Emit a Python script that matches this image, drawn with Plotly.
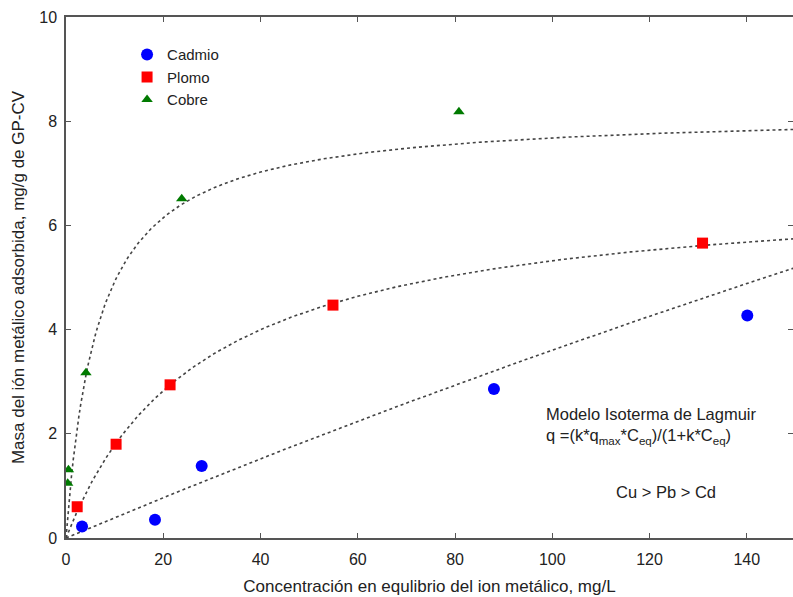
import numpy as np
import plotly.graph_objects as go

# Experimental data (C_eq in mg/L, q in mg/g)
cd_c = [3.3, 18.3, 27.9, 88.0, 140.1]
cd_q = [0.22, 0.35, 1.38, 2.86, 4.27]
pb_c = [2.3, 10.3, 21.4, 54.9, 130.9]
pb_q = [0.60, 1.80, 2.94, 4.47, 5.66]
cu_c = [0.35, 0.5, 4.1, 23.8, 80.8]
cu_q = [1.05, 1.31, 3.17, 6.51, 8.18]

# Langmuir fitted parameters (qmax, k)
cd_qmax, cd_k = 42.6, 0.000925
pb_qmax, pb_k = 6.83, 0.0353
cu_qmax, cu_k = 8.19, 0.1506

x_ticks = [0, 20, 40, 60, 80, 100, 120, 140]
y_ticks = [0, 2, 4, 6, 8, 10]

c_model = np.linspace(0, 150, 400)


def langmuir(c, qmax, k):
    return qmax * k * c / (1 + k * c)


fig = go.Figure()
dash_line = dict(color="#444444", width=1.6, dash="3px,3px")
for qmax, k in [(cd_qmax, cd_k), (pb_qmax, pb_k), (cu_qmax, cu_k)]:
    fig.add_trace(go.Scatter(x=c_model, y=langmuir(c_model, qmax, k), mode="lines",
                             line=dash_line, showlegend=False, hoverinfo="skip"))

fig.add_trace(go.Scatter(x=cd_c, y=cd_q, mode="markers", name="Cadmio",
                         marker=dict(symbol="circle", size=12, color="#0000ff")))
fig.add_trace(go.Scatter(x=pb_c, y=pb_q, mode="markers", name="Plomo",
                         marker=dict(symbol="square", size=11, color="#ff0000")))
fig.add_trace(go.Scatter(x=cu_c, y=cu_q, mode="markers", name="Cobre",
                         marker=dict(symbol="triangle-up", size=10, color="#007a00")))

font = "Liberation Sans, Arial, sans-serif"
fig.update_layout(
    width=793, height=597,
    margin=dict(l=66, r=0, t=17, b=59),
    paper_bgcolor="white", plot_bgcolor="white",
    font=dict(family=font, size=16, color="#222222"),
    legend=dict(x=0.084, y=0.959, xanchor="left", yanchor="top",
                bgcolor="rgba(0,0,0,0)", font=dict(family=font, size=15, color="#222222"),
                tracegroupgap=0, itemwidth=30),
    xaxis=dict(range=[0, 149.5], tickvals=x_ticks, showgrid=False, zeroline=False,
               showline=True, linecolor="#555555", linewidth=1.5, mirror="ticks",
               ticks="inside", ticklen=5, tickcolor="#555555", automargin=False,
               ticklabelstandoff=6,
               tickfont=dict(family=font, size=16, color="#222222"),
               title=dict(text="Concentración en equlibrio del ion metálico, mg/L",
                          font=dict(family=font, size=17, color="#222222"), standoff=13)),
    yaxis=dict(range=[0, 10], tickvals=y_ticks, showgrid=False, zeroline=False,
               showline=True, linecolor="#555555", linewidth=1.5, mirror="ticks",
               ticks="inside", ticklen=5, tickcolor="#555555", automargin=False,
               ticklabelstandoff=4,
               tickfont=dict(family=font, size=16, color="#222222"),
               title=dict(text="Masa del ión metálico adsorbida, mg/g de GP-CV",
                          font=dict(family=font, size=17, color="#222222"), standoff=10)),
)

fig.add_annotation(x=98.3, y=2.15, xref="x", yref="y", xanchor="left", yanchor="middle",
                   text="Modelo Isoterma de Lagmuir<br>q =(k*q<sub>max</sub>*C<sub>eq</sub>)/(1+k*C<sub>eq</sub>)",
                   showarrow=False, align="left",
                   font=dict(family=font, size=16.5, color="#222222"))
fig.add_annotation(x=112.6, y=0.88, xref="x", yref="y", xanchor="left", yanchor="middle",
                   text="Cu > Pb > Cd", showarrow=False,
                   font=dict(family=font, size=16.5, color="#222222"))

# Remove the default page margin so the 793x597 figure fills the window exactly.
fig.write_html("out.html", config={"displayModeBar": False},
               post_script="document.body.style.margin='0';document.body.style.overflow='hidden';")
